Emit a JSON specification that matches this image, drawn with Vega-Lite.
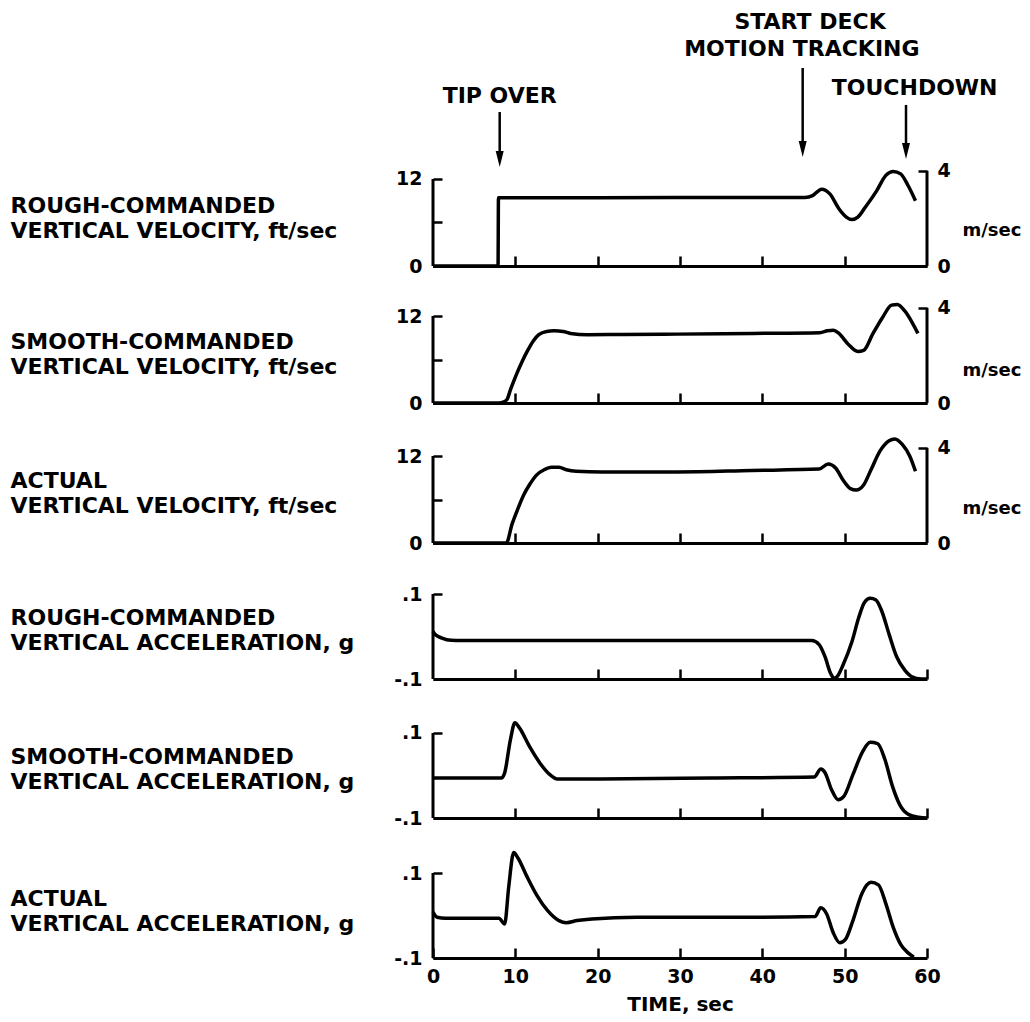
{
  "$schema": "https://vega.github.io/schema/vega-lite/v6.json",
  "padding": {"left": 10, "top": 0, "right": 0, "bottom": 0},
  "background": "white",
  "config": {
    "view": {"stroke": null},
    "font": "DejaVu Sans",
    "axis": {"domainColor": "black", "tickColor": "black", "labelColor": "black", "titleColor": "black", "grid": false}
  },
  "datasets": {
    "p1": [
      {"t": 0, "v": 0}, {"t": 7.9, "v": 0}, {"t": 7.95, "v": 9.4}, {"t": 20, "v": 9.4}, {"t": 35, "v": 9.45},
      {"t": 45.2, "v": 9.45}, {"t": 46.1, "v": 9.7}, {"t": 47.2, "v": 10.6}, {"t": 48.2, "v": 9.95},
      {"t": 49.3, "v": 7.9}, {"t": 50.2, "v": 6.75}, {"t": 50.9, "v": 6.4}, {"t": 51.6, "v": 6.75},
      {"t": 52.5, "v": 8.1}, {"t": 53.9, "v": 10.4}, {"t": 55.0, "v": 12.5}, {"t": 55.9, "v": 13.05},
      {"t": 56.8, "v": 12.7}, {"t": 57.7, "v": 11.1}, {"t": 58.6, "v": 9.0}
    ],
    "p2": [
      {"t": 0, "v": 0}, {"t": 8.0, "v": 0}, {"t": 8.6, "v": 0.15}, {"t": 9.0, "v": 0.5}, {"t": 9.4, "v": 1.8},
      {"t": 10.1, "v": 3.85}, {"t": 10.8, "v": 5.66}, {"t": 11.5, "v": 7.25}, {"t": 12.2, "v": 8.6},
      {"t": 12.85, "v": 9.42}, {"t": 13.8, "v": 9.87}, {"t": 14.7, "v": 9.96}, {"t": 15.8, "v": 9.87},
      {"t": 16.7, "v": 9.6}, {"t": 18.8, "v": 9.42}, {"t": 22.9, "v": 9.46}, {"t": 29.7, "v": 9.5},
      {"t": 38.8, "v": 9.6}, {"t": 47.0, "v": 9.7}, {"t": 47.9, "v": 9.96}, {"t": 48.6, "v": 10.05},
      {"t": 49.3, "v": 9.6}, {"t": 50.4, "v": 8.15}, {"t": 51.6, "v": 7.1}, {"t": 52.3, "v": 7.25},
      {"t": 53.4, "v": 9.5}, {"t": 54.6, "v": 11.8}, {"t": 55.7, "v": 13.5}, {"t": 56.4, "v": 13.6},
      {"t": 57.3, "v": 12.7}, {"t": 58.2, "v": 11.1}, {"t": 58.9, "v": 9.6}
    ],
    "p3": [
      {"t": 0, "v": 0}, {"t": 8.9, "v": 0}, {"t": 9.6, "v": 2.6}, {"t": 10.3, "v": 4.7}, {"t": 11.0, "v": 6.6},
      {"t": 11.7, "v": 8.0}, {"t": 12.6, "v": 9.4}, {"t": 13.5, "v": 10.1}, {"t": 14.4, "v": 10.45},
      {"t": 15.3, "v": 10.45}, {"t": 16.2, "v": 10.1}, {"t": 17.4, "v": 9.9}, {"t": 20.5, "v": 9.8},
      {"t": 29.6, "v": 9.8}, {"t": 38.7, "v": 10.0}, {"t": 46.9, "v": 10.2}, {"t": 48.0, "v": 10.9},
      {"t": 48.9, "v": 10.35}, {"t": 49.8, "v": 8.7}, {"t": 50.7, "v": 7.5}, {"t": 51.4, "v": 7.3},
      {"t": 52.3, "v": 8.0}, {"t": 53.2, "v": 10.1}, {"t": 54.3, "v": 12.7}, {"t": 55.4, "v": 14.1},
      {"t": 56.1, "v": 14.35}, {"t": 57.0, "v": 13.6}, {"t": 57.9, "v": 12.0}, {"t": 58.6, "v": 9.9}
    ],
    "p4": [
      {"t": 0, "a": 0.012}, {"t": 0.3, "a": 0.004}, {"t": 1.0, "a": -0.003}, {"t": 2.2, "a": -0.009},
      {"t": 6.5, "a": -0.0095}, {"t": 20, "a": -0.0095}, {"t": 35, "a": -0.0095}, {"t": 46.0, "a": -0.0095},
      {"t": 46.9, "a": -0.019}, {"t": 47.6, "a": -0.047}, {"t": 48.3, "a": -0.087}, {"t": 48.7, "a": -0.098},
      {"t": 49.1, "a": -0.094}, {"t": 49.8, "a": -0.067}, {"t": 50.9, "a": -0.011}, {"t": 51.7, "a": 0.044},
      {"t": 52.4, "a": 0.080}, {"t": 53.1, "a": 0.090}, {"t": 53.8, "a": 0.086}, {"t": 54.5, "a": 0.060},
      {"t": 55.4, "a": 0.005}, {"t": 56.3, "a": -0.047}, {"t": 57.3, "a": -0.079}, {"t": 58.1, "a": -0.094},
      {"t": 59.3, "a": -0.1}, {"t": 60, "a": -0.1}
    ],
    "p5": [
      {"t": 0, "a": -0.006}, {"t": 8.3, "a": -0.006}, {"t": 8.7, "a": 0.006}, {"t": 9.4, "a": 0.084},
      {"t": 9.95, "a": 0.124}, {"t": 10.5, "a": 0.112}, {"t": 11.7, "a": 0.069}, {"t": 13.0, "a": 0.029},
      {"t": 14.2, "a": 0.002}, {"t": 15.1, "a": -0.008}, {"t": 20.3, "a": -0.008}, {"t": 33.8, "a": -0.006},
      {"t": 46.3, "a": -0.0035}, {"t": 47.1, "a": 0.015}, {"t": 47.6, "a": 0.007}, {"t": 48.4, "a": -0.033},
      {"t": 49.2, "a": -0.057}, {"t": 49.9, "a": -0.049}, {"t": 51.0, "a": 0.002}, {"t": 52.2, "a": 0.057},
      {"t": 53.1, "a": 0.078}, {"t": 54.0, "a": 0.075}, {"t": 54.9, "a": 0.037}, {"t": 55.8, "a": -0.025},
      {"t": 56.7, "a": -0.069}, {"t": 57.8, "a": -0.092}, {"t": 59.0, "a": -0.098}, {"t": 60, "a": -0.1}
    ],
    "p6": [
      {"t": 0, "a": 0.008}, {"t": 0.5, "a": -0.004}, {"t": 1.5, "a": -0.0064}, {"t": 8.0, "a": -0.0064},
      {"t": 8.7, "a": -0.02}, {"t": 9.2, "a": 0.068}, {"t": 9.8, "a": 0.148}, {"t": 10.3, "a": 0.136},
      {"t": 11.4, "a": 0.092}, {"t": 12.6, "a": 0.048}, {"t": 13.9, "a": 0.012}, {"t": 15.3, "a": -0.012},
      {"t": 16.2, "a": -0.017}, {"t": 17.5, "a": -0.012}, {"t": 19.3, "a": -0.008}, {"t": 24.8, "a": -0.004},
      {"t": 38.3, "a": -0.004}, {"t": 46.4, "a": -0.0024}, {"t": 47.1, "a": 0.018}, {"t": 47.8, "a": 0.004},
      {"t": 48.6, "a": -0.04}, {"t": 49.4, "a": -0.064}, {"t": 50.1, "a": -0.056}, {"t": 51.0, "a": -0.012},
      {"t": 52.1, "a": 0.052}, {"t": 53.2, "a": 0.078}, {"t": 54.1, "a": 0.072}, {"t": 55.0, "a": 0.028},
      {"t": 55.9, "a": -0.028}, {"t": 56.8, "a": -0.068}, {"t": 57.7, "a": -0.088}, {"t": 58.4, "a": -0.098}
    ],
    "frames": [
      {"p": "vl", "t": 0, "y0": 0, "y1": 12},
      {"p": "vr", "t": 60, "y0": 0, "y1": 4},
      {"p": "al", "t": 0, "y0": -0.1, "y1": 0.1}
    ],
    "annotText": [
      {"label": "START DECK", "t": 45.8, "lv": 0.867},
      {"label": "MOTION TRACKING", "t": 44.8, "lv": 0.703},
      {"label": "TIP OVER", "t": 8.1, "lv": 0.418},
      {"label": "TOUCHDOWN", "t": 58.5, "lv": 0.467}
    ],
    "arrows": [
      {"event": "TIP OVER", "t": 8.1, "top": 0.321, "bot": 0.061, "head": 0.036},
      {"event": "START DECK MOTION TRACKING", "t": 44.9, "top": 0.588, "bot": 0.103, "head": 0.097},
      {"event": "TOUCHDOWN", "t": 57.45, "top": 0.364, "bot": 0.103, "head": 0.085}
    ]
  },
  "bounds": "flush",
  "spacing": 5,
  "resolve": {"scale": {"x": "independent", "y": "independent"}},
  "vconcat": [
    {
      "width": 494, "height": 165,
      "encoding": {
        "x": {"field": "t", "type": "quantitative", "scale": {"domain": [0, 60], "nice": false}, "axis": null}
      },
      "layer": [
        {
          "data": {"name": "annotText"},
          "mark": {"type": "text", "font": "DejaVu Sans", "fontWeight": "bold", "fontSize": 22, "align": "center", "baseline": "middle", "color": "black"},
          "encoding": {
            "y": {"field": "lv", "type": "quantitative", "scale": {"domain": [0, 1], "nice": false, "zero": false}, "axis": null},
            "text": {"field": "label"}
          }
        },
        {
          "data": {"name": "arrows"},
          "mark": {"type": "rule", "strokeWidth": 2.5, "color": "black"},
          "encoding": {
            "y": {"field": "top", "type": "quantitative", "scale": {"domain": [0, 1], "nice": false, "zero": false}, "axis": null},
            "y2": {"field": "bot"}
          }
        },
        {
          "data": {"name": "arrows"},
          "mark": {"type": "point", "filled": true, "color": "black", "opacity": 1, "shape": "M-0.5,-1L0.5,-1L0,1Z", "size": 256},
          "encoding": {
            "y": {"field": "head", "type": "quantitative", "scale": {"domain": [0, 1], "nice": false, "zero": false}, "axis": null}
          }
        }
      ]
    },
    {
      "width": 494, "height": 96,
      "resolve": {"scale": {"y": "independent"}},
      "encoding": {
        "x": {"field": "t", "type": "quantitative", "scale": {"domain": [0, 60], "nice": false},
          "axis": {"values": [10, 20, 30, 40, 50], "labels": false, "title": null, "domainWidth": 3, "tickSize": -10, "tickWidth": 2.5}}
      },
      "layer": [
        {
          "data": {"name": "p1"},
          "mark": {"type": "line", "color": "black", "strokeWidth": 3.5, "interpolate": "monotone"},
          "encoding": {
            "y": {"field": "v", "type": "quantitative", "scale": {"domain": [0, 13.241], "nice": false, "zero": false},
              "axis": {"values": [0, 6, 12], "labelExpr": "datum.value == 6 ? '' : datum.label", "domain": false, "tickSize": -9, "tickWidth": 2.5,
                "labelPadding": 20, "labelFont": "DejaVu Sans", "labelFontWeight": "bold", "labelFontSize": 19,
                "title": ["ROUGH-COMMANDED", "VERTICAL VELOCITY, ft/sec"], "titleAngle": 0, "titleAlign": "left", "titleBaseline": "top",
                "titleX": -423, "titleY": 25, "titleFont": "DejaVu Sans", "titleFontSize": 22, "titleFontWeight": "bold", "titleLineHeight": 25}}
          }
        },
        {
          "data": {"name": "frames"},
          "transform": [{"filter": "datum.p == 'vl'"}],
          "mark": {"type": "rule", "color": "black", "strokeWidth": 3},
          "encoding": {
            "y": {"field": "y0", "type": "quantitative", "scale": {"domain": [0, 13.241], "nice": false, "zero": false}, "axis": null},
            "y2": {"field": "y1"}
          }
        },
        {
          "data": {"name": "frames"},
          "transform": [{"filter": "datum.p == 'vr'"}],
          "mark": {"type": "rule", "color": "black", "strokeWidth": 3},
          "encoding": {
            "y": {"field": "y0", "type": "quantitative", "scale": {"domain": [0, 4.0359], "nice": false, "zero": false},
              "axis": {"orient": "right", "values": [0, 4], "domain": false, "tickSize": -9, "tickWidth": 2.5, "labelPadding": 19,
                "labelFont": "DejaVu Sans", "labelFontWeight": "bold", "labelFontSize": 19,
                "title": "m/sec", "titleAngle": 0, "titleAlign": "left", "titleBaseline": "middle", "titleX": 35, "titleY": 60,
                "titleFont": "DejaVu Sans", "titleFontSize": 18, "titleFontWeight": "bold"}},
            "y2": {"field": "y1"}
          }
        }
      ]
    },
    {
      "width": 494, "height": 132,
      "resolve": {"scale": {"y": "independent"}},
      "encoding": {
        "x": {"field": "t", "type": "quantitative", "scale": {"domain": [0, 60], "nice": false},
          "axis": {"values": [10, 20, 30, 40, 50], "labels": false, "title": null, "domainWidth": 3, "tickSize": -10, "tickWidth": 2.5}}
      },
      "layer": [
        {
          "data": {"name": "p2"},
          "mark": {"type": "line", "color": "black", "strokeWidth": 3.5, "interpolate": "monotone"},
          "encoding": {
            "y": {"field": "v", "type": "quantitative", "scale": {"domain": [0, 18.207], "nice": false, "zero": false},
              "axis": {"values": [0, 6, 12], "labelExpr": "datum.value == 6 ? '' : datum.label", "domain": false, "tickSize": -9, "tickWidth": 2.5,
                "labelPadding": 20, "labelFont": "DejaVu Sans", "labelFontWeight": "bold", "labelFontSize": 19,
                "title": ["SMOOTH-COMMANDED", "VERTICAL VELOCITY, ft/sec"], "titleAngle": 0, "titleAlign": "left", "titleBaseline": "top",
                "titleX": -423, "titleY": 60, "titleFont": "DejaVu Sans", "titleFontSize": 22, "titleFontWeight": "bold", "titleLineHeight": 25}}
          }
        },
        {
          "data": {"name": "frames"},
          "transform": [{"filter": "datum.p == 'vl'"}],
          "mark": {"type": "rule", "color": "black", "strokeWidth": 3},
          "encoding": {
            "y": {"field": "y0", "type": "quantitative", "scale": {"domain": [0, 18.207], "nice": false, "zero": false}, "axis": null},
            "y2": {"field": "y1"}
          }
        },
        {
          "data": {"name": "frames"},
          "transform": [{"filter": "datum.p == 'vr'"}],
          "mark": {"type": "rule", "color": "black", "strokeWidth": 3},
          "encoding": {
            "y": {"field": "y0", "type": "quantitative", "scale": {"domain": [0, 5.5495], "nice": false, "zero": false},
              "axis": {"orient": "right", "values": [0, 4], "domain": false, "tickSize": -9, "tickWidth": 2.5, "labelPadding": 19,
                "labelFont": "DejaVu Sans", "labelFontWeight": "bold", "labelFontSize": 19,
                "title": "m/sec", "titleAngle": 0, "titleAlign": "left", "titleBaseline": "middle", "titleX": 35, "titleY": 99,
                "titleFont": "DejaVu Sans", "titleFontSize": 18, "titleFontWeight": "bold"}},
            "y2": {"field": "y1"}
          }
        }
      ]
    },
    {
      "width": 494, "height": 135,
      "resolve": {"scale": {"y": "independent"}},
      "encoding": {
        "x": {"field": "t", "type": "quantitative", "scale": {"domain": [0, 60], "nice": false},
          "axis": {"values": [10, 20, 30, 40, 50], "labels": false, "title": null, "domainWidth": 3, "tickSize": -10, "tickWidth": 2.5}}
      },
      "layer": [
        {
          "data": {"name": "p3"},
          "mark": {"type": "line", "color": "black", "strokeWidth": 3.5, "interpolate": "monotone"},
          "encoding": {
            "y": {"field": "v", "type": "quantitative", "scale": {"domain": [0, 18.621], "nice": false, "zero": false},
              "axis": {"values": [0, 6, 12], "labelExpr": "datum.value == 6 ? '' : datum.label", "domain": false, "tickSize": -9, "tickWidth": 2.5,
                "labelPadding": 20, "labelFont": "DejaVu Sans", "labelFontWeight": "bold", "labelFontSize": 19,
                "title": ["ACTUAL", "VERTICAL VELOCITY, ft/sec"], "titleAngle": 0, "titleAlign": "left", "titleBaseline": "top",
                "titleX": -423, "titleY": 62, "titleFont": "DejaVu Sans", "titleFontSize": 22, "titleFontWeight": "bold", "titleLineHeight": 25}}
          }
        },
        {
          "data": {"name": "frames"},
          "transform": [{"filter": "datum.p == 'vl'"}],
          "mark": {"type": "rule", "color": "black", "strokeWidth": 3},
          "encoding": {
            "y": {"field": "y0", "type": "quantitative", "scale": {"domain": [0, 18.621], "nice": false, "zero": false}, "axis": null},
            "y2": {"field": "y1"}
          }
        },
        {
          "data": {"name": "frames"},
          "transform": [{"filter": "datum.p == 'vr'"}],
          "mark": {"type": "rule", "color": "black", "strokeWidth": 3},
          "encoding": {
            "y": {"field": "y0", "type": "quantitative", "scale": {"domain": [0, 5.6757], "nice": false, "zero": false},
              "axis": {"orient": "right", "values": [0, 4], "domain": false, "tickSize": -9, "tickWidth": 2.5, "labelPadding": 19,
                "labelFont": "DejaVu Sans", "labelFontWeight": "bold", "labelFontSize": 19,
                "title": "m/sec", "titleAngle": 0, "titleAlign": "left", "titleBaseline": "middle", "titleX": 35, "titleY": 100,
                "titleFont": "DejaVu Sans", "titleFontSize": 18, "titleFontWeight": "bold"}},
            "y2": {"field": "y1"}
          }
        }
      ]
    },
    {
      "width": 494, "height": 131,
      "resolve": {"scale": {"y": "independent"}},
      "encoding": {
        "x": {"field": "t", "type": "quantitative", "scale": {"domain": [0, 60], "nice": false},
          "axis": {"values": [10, 20, 30, 40, 50, 60], "labels": false, "title": null, "domainWidth": 3, "tickSize": -10, "tickWidth": 2.5}}
      },
      "layer": [
        {
          "data": {"name": "p4"},
          "mark": {"type": "line", "color": "black", "strokeWidth": 3.5, "interpolate": "monotone"},
          "encoding": {
            "y": {"field": "a", "type": "quantitative", "scale": {"domain": [-0.1, 0.20824], "nice": false, "zero": false},
              "axis": {"values": [-0.1, 0.1], "labelExpr": "datum.value > 0 ? '.1' : '-.1'", "domain": false, "tickSize": -9, "tickWidth": 2.5,
                "labelPadding": 20, "labelFont": "DejaVu Sans", "labelFontWeight": "bold", "labelFontSize": 19,
                "title": ["ROUGH-COMMANDED", "VERTICAL ACCELERATION, g"], "titleAngle": 0, "titleAlign": "left", "titleBaseline": "top",
                "titleX": -423, "titleY": 59, "titleFont": "DejaVu Sans", "titleFontSize": 22, "titleFontWeight": "bold", "titleLineHeight": 25}}
          }
        },
        {
          "data": {"name": "frames"},
          "transform": [{"filter": "datum.p == 'al'"}],
          "mark": {"type": "rule", "color": "black", "strokeWidth": 3},
          "encoding": {
            "y": {"field": "y0", "type": "quantitative", "scale": {"domain": [-0.1, 0.20824], "nice": false, "zero": false}, "axis": null},
            "y2": {"field": "y1"}
          }
        }
      ]
    },
    {
      "width": 494, "height": 134,
      "resolve": {"scale": {"y": "independent"}},
      "encoding": {
        "x": {"field": "t", "type": "quantitative", "scale": {"domain": [0, 60], "nice": false},
          "axis": {"values": [10, 20, 30, 40, 50, 60], "labels": false, "title": null, "domainWidth": 3, "tickSize": -10, "tickWidth": 2.5}}
      },
      "layer": [
        {
          "data": {"name": "p5"},
          "mark": {"type": "line", "color": "black", "strokeWidth": 3.5, "interpolate": "monotone"},
          "encoding": {
            "y": {"field": "a", "type": "quantitative", "scale": {"domain": [-0.1, 0.21529], "nice": false, "zero": false},
              "axis": {"values": [-0.1, 0.1], "labelExpr": "datum.value > 0 ? '.1' : '-.1'", "domain": false, "tickSize": -9, "tickWidth": 2.5,
                "labelPadding": 20, "labelFont": "DejaVu Sans", "labelFontWeight": "bold", "labelFontSize": 19,
                "title": ["SMOOTH-COMMANDED", "VERTICAL ACCELERATION, g"], "titleAngle": 0, "titleAlign": "left", "titleBaseline": "top",
                "titleX": -423, "titleY": 62, "titleFont": "DejaVu Sans", "titleFontSize": 22, "titleFontWeight": "bold", "titleLineHeight": 25}}
          }
        },
        {
          "data": {"name": "frames"},
          "transform": [{"filter": "datum.p == 'al'"}],
          "mark": {"type": "rule", "color": "black", "strokeWidth": 3},
          "encoding": {
            "y": {"field": "y0", "type": "quantitative", "scale": {"domain": [-0.1, 0.21529], "nice": false, "zero": false}, "axis": null},
            "y2": {"field": "y1"}
          }
        }
      ]
    },
    {
      "width": 494, "height": 135,
      "resolve": {"scale": {"y": "independent"}},
      "encoding": {
        "x": {"field": "t", "type": "quantitative", "scale": {"domain": [0, 60], "nice": false},
          "axis": {"values": [0, 10, 20, 30, 40, 50, 60], "labels": true, "domainWidth": 3, "tickSize": -10, "tickWidth": 2.5,
            "labelPadding": 19, "labelFont": "DejaVu Sans", "labelFontWeight": "bold", "labelFontSize": 19, "labelFlush": false,
            "title": "TIME, sec", "titleFont": "DejaVu Sans", "titleFontSize": 20, "titleFontWeight": "bold", "titlePadding": 8}}
      },
      "layer": [
        {
          "data": {"name": "p6"},
          "mark": {"type": "line", "color": "black", "strokeWidth": 3.5, "interpolate": "monotone"},
          "encoding": {
            "y": {"field": "a", "type": "quantitative", "scale": {"domain": [-0.1, 0.21765], "nice": false, "zero": false},
              "axis": {"values": [-0.1, 0.1], "labelExpr": "datum.value > 0 ? '.1' : '-.1'", "domain": false, "tickSize": -9, "tickWidth": 2.5,
                "labelPadding": 20, "labelFont": "DejaVu Sans", "labelFontWeight": "bold", "labelFontSize": 19,
                "title": ["ACTUAL", "VERTICAL ACCELERATION, g"], "titleAngle": 0, "titleAlign": "left", "titleBaseline": "top",
                "titleX": -423, "titleY": 65, "titleFont": "DejaVu Sans", "titleFontSize": 22, "titleFontWeight": "bold", "titleLineHeight": 25}}
          }
        },
        {
          "data": {"name": "frames"},
          "transform": [{"filter": "datum.p == 'al'"}],
          "mark": {"type": "rule", "color": "black", "strokeWidth": 3},
          "encoding": {
            "y": {"field": "y0", "type": "quantitative", "scale": {"domain": [-0.1, 0.21765], "nice": false, "zero": false}, "axis": null},
            "y2": {"field": "y1"}
          }
        }
      ]
    }
  ]
}
